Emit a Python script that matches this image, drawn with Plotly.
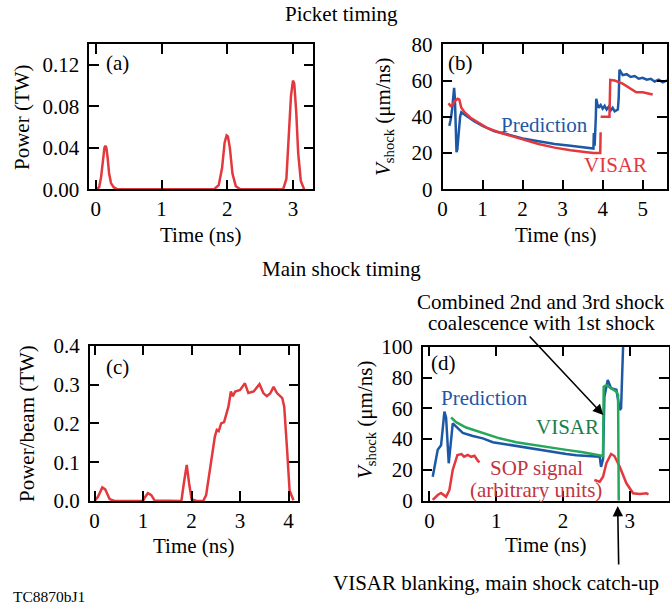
import plotly.graph_objects as go

W, H = 670, 605
FONT = "Liberation Serif"
RED = "#e2383e"
BLUE = "#1d58a6"
GREEN = "#24a85a"

# ---------------- data ----------------
# (a) Picket timing: laser power
a_time = [0.0, 0.05, 0.08, 0.11, 0.13, 0.145, 0.16, 0.18, 0.2, 0.23, 0.27, 0.33, 0.4,
          1.8, 1.87, 1.92, 1.96, 1.99, 2.01, 2.04, 2.08, 2.13, 2.2,
          2.85, 2.9, 2.94, 2.97, 3.0, 3.02, 3.05, 3.08, 3.12, 3.17]
a_power = [0.0, 0.002, 0.012, 0.03, 0.04, 0.042, 0.04, 0.03, 0.016, 0.006, 0.002, 0.0, 0.0,
           0.0, 0.004, 0.02, 0.045, 0.052, 0.051, 0.04, 0.015, 0.003, 0.0,
           0.0, 0.01, 0.05, 0.09, 0.105, 0.102, 0.075, 0.035, 0.008, 0.0]

# (b) Picket timing: shock velocity
b_vis_t = [0.15, 0.2, 0.25, 0.3, 0.38, 0.42, 0.47, 0.55, 0.7, 0.9, 1.1, 1.4, 1.7, 2.0, 2.4, 2.8, 3.2, 3.6,
           3.78, 3.94, 3.95, None,
           3.95, 4.05, 4.17, 4.19, 4.3, 4.5, 4.67, 4.84, 5.0, 5.25]
b_vis_v = [47.5, 46, 46.5, 48.5, 50, 49.5, 45, 42.5, 39.5, 36.5, 34, 31.5, 29.5, 27.5, 25, 23, 21.5, 20.5,
           20, 20, 31.5, None,
           40, 40, 40, 60.3, 60, 58.3, 56, 53.5, 53.5, 52.3]
b_pred_t = [0.17, 0.2, 0.24, 0.27, 0.29, 0.31, 0.33, 0.35, 0.37, 0.4, 0.44, 0.47, 0.5, 0.6, 0.8, 1.0,
            1.3, 1.6, 2.0, 2.4, 2.8, 3.2, 3.6, 3.77, 3.78, 3.8, 3.83, 3.84, 3.87, 3.9, 3.95, 4.0,
            4.05, 4.1, 4.15, 4.2, 4.25, 4.3, 4.38, 4.4, 4.42, 4.45, 4.5, 4.6, 4.7, 4.8, 4.9, 5.0,
            5.1, 5.2, 5.3, 5.4, 5.5, 5.6, 5.65]
b_pred_v = [35, 38, 44, 55, 56, 50, 30, 20.5, 22, 32, 40, 42.5, 42, 40.5, 37.5, 35,
            32, 30.5, 28, 26.5, 25, 24, 23, 22.5, 31, 24, 40, 50, 47, 45, 46.5, 44.5,
            46, 44, 45.5, 43.5, 45, 43, 44, 50, 66, 64.5, 63, 63.5, 62, 62.5, 61, 61.5,
            60.5, 61, 59.5, 60.5, 59, 60, 59.5]

# (c) Main shock timing: power per beam
c_time = [0.0, 0.07, 0.16, 0.22, 0.31, 0.41, 1.0, 1.035, 1.1, 1.17, 1.24, 1.79, 1.84, 1.9, 1.95,
          2.0, 2.1, 2.24, 2.3, 2.38, 2.48, 2.52, 2.56, 2.61, 2.67, 2.76, 2.81, 2.85, 2.9, 3.0,
          3.1, 3.17, 3.28, 3.4, 3.48, 3.55, 3.62, 3.69, 3.76, 3.87, 3.91, 3.97, 4.02, 4.1]
c_power = [0.0, 0.011, 0.035, 0.03, 0.005, 0.0, 0.0, 0.009, 0.02, 0.015, 0.001, 0.0, 0.045, 0.093, 0.045,
           0.005, 0.0, 0.0, 0.015, 0.088, 0.166, 0.183, 0.18, 0.2, 0.203, 0.243, 0.282, 0.27, 0.282, 0.286,
           0.303, 0.278, 0.282, 0.301, 0.278, 0.27, 0.277, 0.294, 0.278, 0.265, 0.243, 0.13, 0.027, 0.002]

# (d) Main shock timing: shock velocity and SOP
d_pred_t = [0.05, 0.125, 0.175, 0.2, 0.225, 0.25, 0.29, 0.35, 0.42, 0.5, 0.65, 0.8, 0.95, 1.05, 1.2,
            1.35, 1.55, 1.7, 1.85, 2.05, 2.2, 2.35, 2.55, 2.57, 2.6, 2.62, 2.67, 2.72, 2.8, 2.85,
            2.87, 2.9, 2.93]
d_pred_v = [15.6, 33, 36, 45, 57.8, 54, 24.3, 50.2, 47, 44, 42, 40.5, 38, 37.3, 36,
            35, 34, 32.5, 31.5, 30.3, 29.5, 29, 28.6, 22, 27, 67.5, 78.4, 73, 72, 59,
            60, 100, 115]
d_vis_t = [0.325, 0.4, 0.55, 0.8, 1.05, 1.3, 1.55, 1.8, 2.05, 2.3, 2.55, 2.6, 2.61, 2.65, 2.8,
           2.825, 2.835]
d_vis_v = [54, 51, 47.5, 43.8, 40.5, 38, 36.2, 34.5, 33, 31.5, 29.7, 29, 74, 75, 70.8,
           68.6, 0]
d_sop_t = [0.05, 0.125, 0.175, 0.25, 0.3, 0.35, 0.42, 0.48, 0.52, 0.575, 0.625, 0.675, 0.725, 0.75, None,
           2.47, 2.55, 2.6, 2.65, 2.72, 2.77, 2.85, 2.95, 3.05, 3.15, 3.25, 3.28]
d_sop_v = [0.5, 3.7, 5, 2.5, 7, 20, 29.7, 30.3, 28.6, 29.7, 28.5, 29.2, 26, 24.9, None,
           13.4, 12.3, 15.6, 24.3, 30.3, 29, 22, 11.3, 4.8, 4.3, 4.8, 4]

# ---------------- figure ----------------
def px(x):
    return x / W


def py(y):
    return 1 - y / H


fig = go.Figure()
fig.add_trace(go.Scatter(x=a_time, y=a_power, mode="lines", line=dict(color=RED, width=2.5),
                         xaxis="x", yaxis="y"))
fig.add_trace(go.Scatter(x=b_pred_t, y=b_pred_v, mode="lines", line=dict(color=BLUE, width=2.5),
                         xaxis="x2", yaxis="y2", connectgaps=False))
fig.add_trace(go.Scatter(x=b_vis_t, y=b_vis_v, mode="lines", line=dict(color=RED, width=2.5),
                         xaxis="x2", yaxis="y2", connectgaps=False))
fig.add_trace(go.Scatter(x=c_time, y=c_power, mode="lines", line=dict(color=RED, width=2.5),
                         xaxis="x3", yaxis="y3"))
fig.add_trace(go.Scatter(x=d_pred_t, y=d_pred_v, mode="lines", line=dict(color=BLUE, width=2.5),
                         xaxis="x4", yaxis="y4"))
fig.add_trace(go.Scatter(x=d_sop_t, y=d_sop_v, mode="lines", line=dict(color=RED, width=2.5),
                         xaxis="x4", yaxis="y4", connectgaps=False))
fig.add_trace(go.Scatter(x=d_vis_t, y=d_vis_v, mode="lines", line=dict(color=GREEN, width=2.5),
                         xaxis="x4", yaxis="y4"))

common = dict(showline=True, linecolor="black", linewidth=1.5, mirror="ticks", ticks="inside",
              ticklen=10, tickwidth=1.5, tickcolor="black", showgrid=False, zeroline=False,
              automargin=False, tickfont=dict(family=FONT, size=21, color="black"))

layout = dict(
    width=W, height=H, margin=dict(l=0, r=0, t=0, b=0, autoexpand=False), autosize=False,
    paper_bgcolor="white", plot_bgcolor="white", showlegend=False,
    font=dict(family=FONT, size=21, color="black"),
    xaxis=dict(domain=[px(89.3), px(313.3)], range=[-0.1, 3.31], tickvals=[0, 1, 2, 3], anchor="y", **common),
    yaxis=dict(domain=[py(189.3), py(44.3)], range=[0, 0.14], tickvals=[0, 0.04, 0.08, 0.12],
               tickformat=".2f", anchor="x", ticklabelstandoff=4, **common),
    xaxis2=dict(domain=[px(442.5), px(666.7)], range=[0, 5.6], tickvals=[0, 1, 2, 3, 4, 5], anchor="y2", **common),
    yaxis2=dict(domain=[py(189.3), py(44.3)], range=[0, 80], tickvals=[0, 20, 40, 60, 80], anchor="x2",
                ticklabelstandoff=4, **common),
    xaxis3=dict(domain=[px(89.7), px(298.3)], range=[-0.1, 4.2], tickvals=[0, 1, 2, 3, 4], anchor="y3", **common),
    yaxis3=dict(domain=[py(501), py(345.7)], range=[0, 0.4], tickvals=[0, 0.1, 0.2, 0.3, 0.4],
                tickformat=".1f", anchor="x3", ticklabelstandoff=4, **common),
    xaxis4=dict(domain=[px(422.7), px(668.5)], range=[-0.1, 3.58], tickvals=[0, 1, 2, 3], anchor="y4", **common),
    yaxis4=dict(domain=[py(500.7), py(346.7)], range=[0, 100], tickvals=[0, 20, 40, 60, 80, 100], anchor="x4",
                ticklabelstandoff=4, **common),
)
fig.update_layout(**layout)

ann = []


def text(x, y, s, size=21, color="black", angle=0, xanchor="center", yanchor="middle"):
    ann.append(dict(x=px(x), y=py(y), xref="paper", yref="paper", text=s, showarrow=False,
                    textangle=angle, xanchor=xanchor, yanchor=yanchor,
                    font=dict(family=FONT, size=size, color=color)))


def dtext(x, y, s, xr, yr, color, size=21):
    ann.append(dict(x=x, y=y, xref=xr, yref=yr, text=s, showarrow=False,
                    font=dict(family=FONT, size=size, color=color)))


text(341, 14, "Picket timing")
text(341, 269, "Main shock timing")
text(201, 235, "Time (ns)")
text(556, 235, "Time (ns)")
text(194, 546, "Time (ns)")
text(546, 545, "Time (ns)")
text(22, 117, "Power (TW)", angle=-90)
text(384, 117, "<i>V</i><sub>shock</sub> (μm/ns)", angle=-90)
text(27, 424, "Power/beam (TW)", angle=-90)
text(366, 420, "<i>V</i><sub>shock</sub> (μm/ns)", angle=-90)
text(118, 63, "(a)")
text(460, 63, "(b)")
text(117, 367, "(c)")
text(443, 363, "(d)")
text(541, 302, "Combined 2nd and 3rd shock")
text(541, 323, "coalescence with 1st shock")
text(496, 583, "VISAR blanking, main shock catch-up")
text(49, 596, "TC8870bJ1", size=15.5)

dtext(2.55, 35.5, "Prediction", "x2", "y2", BLUE)
dtext(4.32, 13.4, "VISAR", "x2", "y2", RED)
dtext(0.82, 66.5, "Prediction", "x4", "y4", BLUE)
dtext(2.07, 48, "VISAR", "x4", "y4", "#1e7d4c")
dtext(1.6, 21, "SOP signal", "x4", "y4", "#bf3440")
dtext(1.6, 7, "(arbitrary units)", "x4", "y4", "#bf3440")

# arrows
ann.append(dict(x=px(603.3), y=py(415), xref="paper", yref="paper", ax=-75, ay=-80,
                axref="pixel", ayref="pixel", showarrow=True, arrowhead=2, arrowsize=1.3,
                arrowwidth=1.6, arrowcolor="black", text=""))
ann.append(dict(x=px(617.7), y=py(506), xref="paper", yref="paper", ax=1, ay=60,
                axref="pixel", ayref="pixel", showarrow=True, arrowhead=2, arrowsize=1.3,
                arrowwidth=1.6, arrowcolor="black", text=""))

fig.update_layout(annotations=ann)
fig.write_html("out.html")
